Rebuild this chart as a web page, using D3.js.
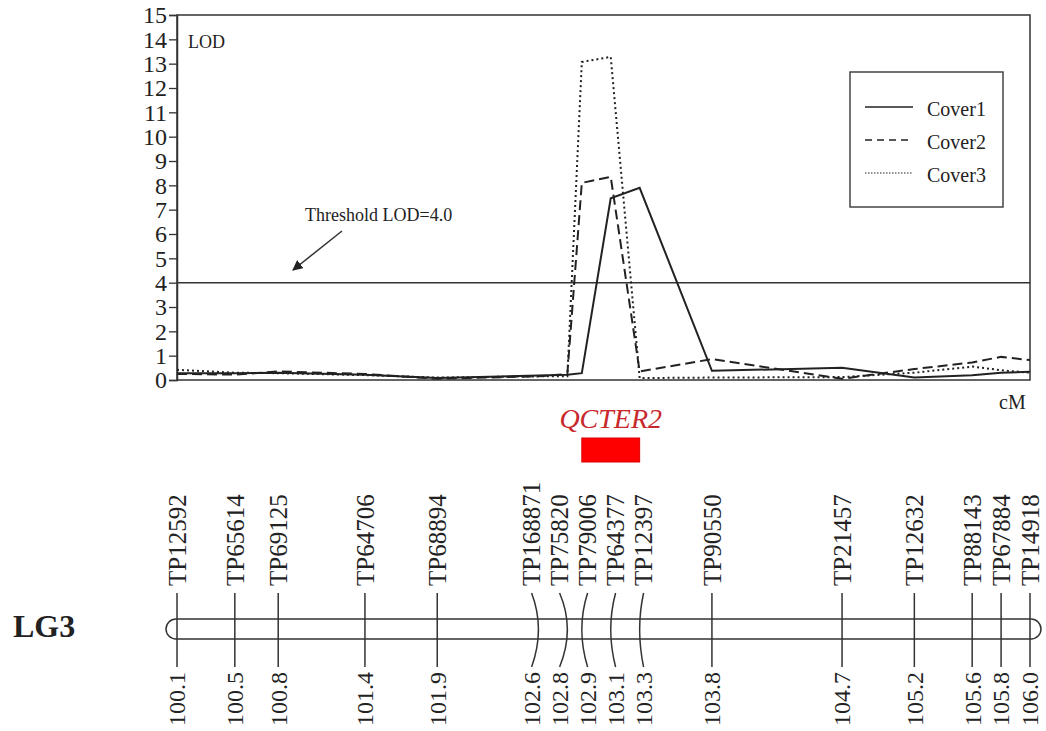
<!DOCTYPE html>
<html>
<head>
<meta charset="utf-8">
<script src="https://cdn.jsdelivr.net/npm/d3@7"></script>
<style>
  body { margin: 0; background: #fff; }
  svg { display: block; }
  text { font-family: "Times New Roman", "Liberation Serif", serif; fill: #222; }
</style>
</head>
<body>
<svg id="chart" width="1046" height="731"></svg>
<script>
// Marcadores do grupo de ligação LG3 (nome e posição em cM)
const markerNames = ["TP12592", "TP65614", "TP69125", "TP64706", "TP68894", "TP168871", "TP75820", "TP79006",
  "TP64377", "TP12397", "TP90550", "TP21457", "TP12632", "TP88143", "TP67884", "TP14918"];
const markerPos = [100.1, 100.5, 100.8, 101.4, 101.9, 102.6, 102.8, 102.9, 103.1, 103.3, 103.8, 104.7, 105.2, 105.6, 105.8, 106.0];

// Valores de LOD lidos em cada marcador
const cover1 = [0.28, 0.28, 0.30, 0.22, 0.08, 0.18, 0.22, 0.28, 7.47, 7.90, 0.38, 0.50, 0.10, 0.20, 0.30, 0.34];
const cover2 = [0.25, 0.22, 0.35, 0.25, 0.05, 0.15, 0.25, 8.10, 8.35, 0.35, 0.86, 0.05, 0.45, 0.72, 0.95, 0.82];
const cover3 = [0.42, 0.30, 0.28, 0.20, 0.10, 0.15, 0.15, 13.07, 13.28, 0.08, 0.10, 0.12, 0.30, 0.55, 0.40, 0.30];

const seriesNames = ["Cover1", "Cover2", "Cover3"];
const lodTicks = [0, 1, 2, 3, 4, 5, 6, 7, 8, 9, 10, 11, 12, 13, 14, 15];
const threshold = 4.0;
const qtlName = "QCTER2";
const qtlRange = [102.9, 103.3];

const svg = d3.select("#chart");
svg.append("rect").attr("width", 1046).attr("height", 731).attr("fill", "#fff");

// Escalas
const x = d3.scaleLinear().domain([100.1, 106.0]).range([177, 1030]);
const y = d3.scaleLinear().domain([0, 15]).range([380, 15]);

// Moldura do gráfico de LOD
svg.append("rect")
  .attr("x", x.range()[0]).attr("y", y(15))
  .attr("width", x.range()[1] - x.range()[0]).attr("height", y(0) - y(15))
  .attr("fill", "none").attr("stroke", "#333").attr("stroke-width", 1.5);

// Eixo Y
const yAxis = svg.append("g")
  .attr("transform", `translate(${x.range()[0]},0)`)
  .call(d3.axisLeft(y).tickValues(lodTicks).tickSize(8).tickPadding(2).tickFormat(d3.format("d")));
yAxis.select(".domain").attr("stroke", "#333").attr("stroke-width", 1.5);
yAxis.selectAll(".tick line").attr("stroke", "#333").attr("stroke-width", 1.3);
yAxis.selectAll(".tick text")
  .attr("fill", "#1a1a1a")
  .style("font-family", '"Times New Roman", "Liberation Serif", serif')
  .style("font-size", "24px");

svg.append("text").attr("x", 188).attr("y", 48).style("font-size", "18px").text("LOD");

// Linha de limiar
svg.append("line")
  .attr("x1", x.range()[0]).attr("x2", x.range()[1])
  .attr("y1", y(threshold)).attr("y2", y(threshold))
  .attr("stroke", "#333").attr("stroke-width", 1.5);

svg.append("text").attr("x", 305).attr("y", 221).style("font-size", "18px").text("Threshold LOD=4.0");

svg.append("defs").append("marker")
  .attr("id", "arrow").attr("viewBox", "0 0 10 10")
  .attr("refX", 9).attr("refY", 5)
  .attr("markerWidth", 7).attr("markerHeight", 7)
  .attr("orient", "auto")
  .append("path").attr("d", "M0,0 L10,5 L0,10 z").attr("fill", "#222");

svg.append("line")
  .attr("x1", 342).attr("y1", 231).attr("x2", 293).attr("y2", 270)
  .attr("stroke", "#333").attr("stroke-width", 1.5)
  .attr("marker-end", "url(#arrow)");

// Curvas de LOD
const dashes = [null, "10,5", "2,3"];
const widths = [2, 2, 2];
const line = d3.line().x(d => x(d[0])).y(d => y(d[1]));

[cover1, cover2, cover3].forEach((vals, i) => {
  svg.append("path")
    .datum(markerPos.map((p, j) => [p, vals[j]]))
    .attr("d", line)
    .attr("fill", "none")
    .attr("stroke", "#222")
    .attr("stroke-width", widths[i])
    .attr("stroke-dasharray", dashes[i]);
});

// Legenda
const legend = svg.append("g").attr("transform", "translate(850,72)");
legend.append("rect").attr("width", 153).attr("height", 135)
  .attr("fill", "#fff").attr("stroke", "#444").attr("stroke-width", 1.5);
seriesNames.forEach((name, i) => {
  const ly = 35 + i * 33;
  legend.append("line")
    .attr("x1", 15).attr("x2", 63).attr("y1", ly).attr("y2", ly)
    .attr("stroke", "#222").attr("stroke-width", i === 2 ? 1.2 : 1.5)
    .attr("stroke-dasharray", i === 1 ? "7,5" : i === 2 ? "1.5,1.5" : null);
  legend.append("text").attr("x", 77).attr("y", ly + 9)
    .style("font-size", "20px").attr("fill", "#333").text(name);
});

svg.append("text").attr("x", 999).attr("y", 409).style("font-size", "20px").text("cM");

// QTL
svg.append("text")
  .attr("x", (x(qtlRange[0]) + x(qtlRange[1])) / 2).attr("y", 428)
  .attr("text-anchor", "middle")
  .style("font-size", "28px").style("font-style", "italic")
  .style("fill", "#c8282c")
  .text(qtlName);

svg.append("rect")
  .attr("x", x(qtlRange[0])).attr("y", 438)
  .attr("width", x(qtlRange[1]) - x(qtlRange[0])).attr("height", 24)
  .attr("fill", "#ff0000").attr("stroke", "#d00").attr("stroke-width", 1);

// Mapa de ligação
const chromTop = 619, chromBot = 639, chromMid = (chromTop + chromBot) / 2;
const tickTop = 593, tickBot = 667;

svg.append("text").attr("x", 13).attr("y", 637)
  .style("font-size", "32px").style("font-weight", "bold").attr("fill", "#111").text("LG3");

svg.append("rect")
  .attr("x", x(100.1) - 11).attr("y", chromTop)
  .attr("width", x(106.0) - x(100.1) + 22).attr("height", chromBot - chromTop)
  .attr("rx", 10).attr("ry", 10)
  .attr("fill", "#fff").attr("stroke", "#333").attr("stroke-width", 1.5);

// Afasta os rótulos que se sobrepõem
const minGap = 28;
const labelX = markerPos.map(p => x(p));
for (let k = 0; k < 300; k++) {
  for (let i = 0; i < labelX.length - 1; i++) {
    const gap = labelX[i + 1] - labelX[i];
    if (gap < minGap) {
      const push = (minGap - gap) / 2;
      labelX[i] -= push;
      labelX[i + 1] += push;
    }
  }
}

markerNames.forEach((name, i) => {
  const cx = x(markerPos[i]);
  const lx = labelX[i];
  const path = Math.abs(lx - cx) < 0.5
    ? `M${cx},${tickTop} L${cx},${tickBot}`
    : `M${lx},${tickTop} Q${2 * cx - lx},${chromMid} ${lx},${tickBot}`;
  svg.append("path").attr("d", path)
    .attr("fill", "none").attr("stroke", "#333").attr("stroke-width", 1.5);

  svg.append("text")
    .attr("transform", `translate(${lx},586) rotate(-90)`)
    .attr("dy", "0.35em")
    .style("font-size", "25px").attr("fill", "#1a1a1a")
    .text(name);

  svg.append("text")
    .attr("transform", `translate(${lx},672) rotate(-90)`)
    .attr("dy", "0.35em")
    .attr("text-anchor", "end")
    .style("font-size", "24px").attr("fill", "#1a1a1a")
    .text(d3.format(".1f")(markerPos[i]));
});
</script>
</body>
</html>
